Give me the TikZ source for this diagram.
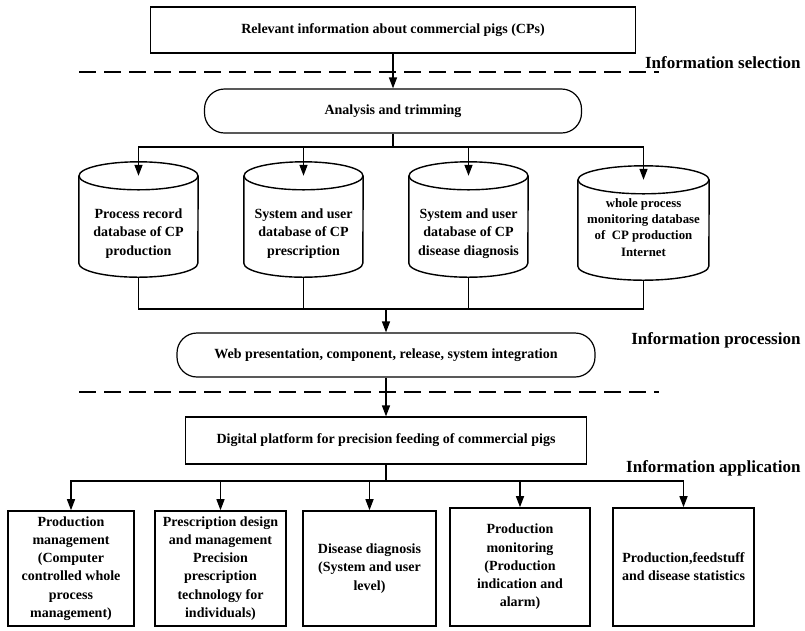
\documentclass[tikz,border=0pt]{standalone}
\usepackage{fontspec}
\setmainfont{Liberation Serif}
\usetikzlibrary{arrows.meta}
\newcommand{\boxfont}{\fontsize{14}{18.2}\selectfont\bfseries}
\newcommand{\smallboxfont}{\fontsize{12.8}{16.3}\selectfont\bfseries}
\newcommand{\stagefont}{\fontsize{17}{20}\selectfont\bfseries}
\tikzset{
  box/.style={draw, line width=1.2pt, align=center, font=\boxfont, inner sep=2pt},
  roundbox/.style={box, rounded corners=20pt},
  leafbox/.style={box, line width=1.6pt, minimum height=115pt},
  dbase/.style={align=center, font=\boxfont, inner sep=1pt, minimum width=119pt, minimum height=87pt},
  stage/.style={font=\stagefont, anchor=east},
  wire/.style={line width=1.4pt},
  arr/.style={wire, -{Triangle[length=11pt,width=8pt]}},
  sep/.style={line width=2pt, dash pattern=on 17pt off 8pt}
}

\begin{document}
\begin{tikzpicture}[x=1pt,y=-1pt]
\useasboundingbox (0,0) rectangle (805,630);

\node[box, minimum width=485pt, minimum height=46pt] (info) at (393,30) {Relevant information about commercial pigs (CPs)};
\node[stage] (selLbl) at (804,63) {Information selection};
\draw[sep] (79,72) -- (659,72);

\node[roundbox, minimum width=377pt, minimum height=44pt] (trim) at (393,111) {Analysis and trimming};
\draw[arr] (info) -- (trim);

\node[dbase] (db1) at (138.5,233.5) {Process record\\database of CP\\production};
\node[dbase] (db2) at (303.5,233.5) {System and user\\database of CP\\prescription};
\node[dbase] (db3) at (468.5,233.5) {System and user\\database of CP\\disease diagnosis};
\node[dbase, minimum width=131pt, minimum height=86pt, font=\smallboxfont] (db4) at (643.5,237) {whole process\\monitoring database\\of\ \ CP production\\Internet\\[3pt]\mbox{}};

\foreach \d/\r in {db1/59.5,db2/59.5,db3/59.5,db4/65.5} {
  \draw[wire] ([yshift=14pt]\d.north west) -- ([yshift=14pt]\d.south west)
    arc[start angle=180, end angle=360, x radius=\r pt, y radius=14pt] -- ([yshift=14pt]\d.north east);
  \draw[wire] ([yshift=14pt]\d.north) ellipse[x radius=\r pt, y radius=14pt];
}

\coordinate (fan) at (393,147);
\draw[wire] (trim) -- (fan);
\foreach \d in {db1,db2,db3,db4}
  \draw[arr] (fan) -| ([yshift=14pt]\d.north);

\coordinate (join) at (386,309);
\draw[wire] (db1.south) -- (db1.south |- join) -- (db4.south |- join) -- (db4.south);
\draw[wire] (db2.south) -- (db2.south |- join);
\draw[wire] (db3.south) -- (db3.south |- join);

\node[roundbox, minimum width=418pt, minimum height=44pt] (web) at (386,355) {Web presentation, component, release, system integration};
\node[stage] (procLbl) at (804,340) {Information procession};
\draw[arr] (join) -- (web);
\draw[sep] (79,392) -- (659,392);

\node[box, minimum width=401pt, minimum height=47pt] (platform) at (386,440.5) {Digital platform for precision feeding of commercial pigs};
\node[stage] (appLbl) at (804,468) {Information application};
\draw[arr] (web) -- (platform);

\node[leafbox, minimum width=126pt] (prod) at (71,568.5) {Production\\management\\(Computer\\controlled whole\\process\\management)};
\node[leafbox, minimum width=131pt] (presc) at (220.5,568.5) {Prescription design\\and management\\Precision\\prescription\\technology for\\individuals)};
\node[leafbox, minimum width=133pt] (disease) at (369.5,568.5) {Disease diagnosis\\(System and user\\level)};
\node[leafbox, minimum width=140pt, minimum height=118pt] (monitor) at (520,567) {Production\\monitoring\\(Production\\indication and\\alarm)};
\node[leafbox, minimum width=141pt, minimum height=118pt] (stats) at (683.5,567) {Production,feedstuff\\and disease statistics};

\coordinate (split) at (386,481);
\draw[wire] (platform) -- (split);
\foreach \b in {prod,presc,disease,monitor,stats}
  \draw[arr] (split) -| (\b);
\end{tikzpicture}
\end{document}
